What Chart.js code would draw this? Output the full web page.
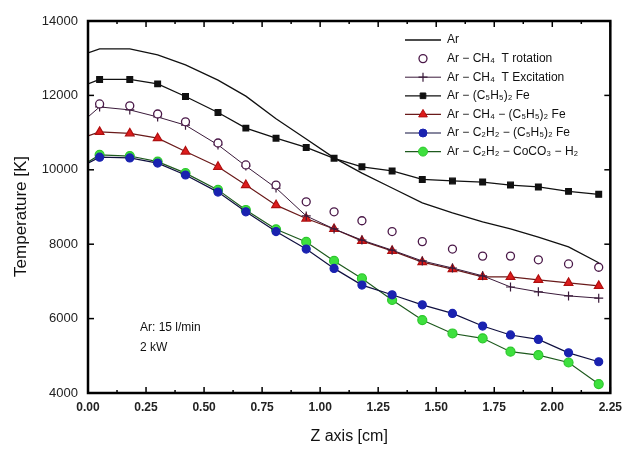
<!DOCTYPE html>
<html>
<head>
<meta charset="utf-8">
<script src="https://cdn.jsdelivr.net/npm/chart.js@4.4.1/dist/chart.umd.min.js"></script>
<style>
  html, body { margin: 0; padding: 0; background: #fff; }
  #wrap { width: 629px; height: 460px; }
</style>
</head>
<body>
<div id="wrap"><canvas id="tempChart"></canvas></div>
<script>
// measured positions along the torch axis (cm)
const zPoints = [0.05, 0.18, 0.30, 0.42, 0.56, 0.68, 0.81, 0.94, 1.06, 1.18, 1.31, 1.44, 1.57, 1.70, 1.82, 1.94, 2.07, 2.20];
// the connected curves also start at the nozzle exit
const zLine = [0.00].concat(zPoints);

const tAr         = [13140, 13250, 13250, 13090, 12820, 12410, 11980, 11370, 10830, 10320, 9910, 9510, 9110, 8840, 8600, 8410, 8190, 7930, 7500];
const tRotation   = [11770, 11720, 11500, 11290, 10720, 10130, 9590, 9140, 8870, 8630, 8340, 8070, 7870, 7680, 7680, 7580, 7470, 7380];
const tExcitation = [11420, 11690, 11610, 11420, 11200, 10670, 10100, 9510, 8760, 8410, 8110, 7840, 7550, 7360, 7150, 6850, 6720, 6610, 6550];
const tFerrocene  = [12310, 12430, 12430, 12310, 11970, 11540, 11120, 10850, 10600, 10310, 10080, 9970, 9740, 9700, 9670, 9590, 9540, 9420, 9340];
const tCh4Fe      = [10910, 11020, 10980, 10850, 10490, 10080, 9590, 9050, 8690, 8410, 8090, 7820, 7520, 7330, 7120, 7120, 7040, 6960, 6880];
const tC2h2Fe     = [10180, 10340, 10320, 10180, 9860, 9400, 8870, 8340, 7870, 7350, 6900, 6640, 6370, 6140, 5800, 5560, 5440, 5080, 4840];
const tC2h2Co     = [10210, 10400, 10370, 10220, 9910, 9460, 8920, 8400, 8060, 7550, 7080, 6500, 5960, 5600, 5470, 5110, 5020, 4820, 4240];

const seriesNames = [
    "Ar",
    "Ar \u2212 CH\u2084  T rotation",
    "Ar \u2212 CH\u2084  T Excitation",
    "Ar \u2212 (C\u2085H\u2085)\u2082 Fe",
    "Ar \u2212 CH\u2084 \u2212 (C\u2085H\u2085)\u2082 Fe",
    "Ar \u2212 C\u2082H\u2082 \u2212 (C\u2085H\u2085)\u2082 Fe",
    "Ar \u2212 C\u2082H\u2082 \u2212 CoCO\u2083 \u2212 H\u2082"
];

const yTicks = [4000, 6000, 8000, 10000, 12000, 14000];
const xTicks = [0.00, 0.25, 0.50, 0.75, 1.00, 1.25, 1.50, 1.75, 2.00, 2.25];

const fontFamily = "'Liberation Sans', Arial, sans-serif";

function pairs(xs, ys) {
    return ys.map((v, i) => ({ x: xs[i], y: v }));
}

// first point of each curve sits on the axis without a marker
function radii(n, r) {
    return Array.from({ length: n }, (_, i) => (i === 0 ? 0 : r));
}

const datasets = [
    {
        label: seriesNames[0],
        data: pairs(zLine, tAr),
        borderColor: "#111",
        borderWidth: 1.3,
        pointRadius: 0,
        showLine: true
    },
    {
        label: seriesNames[1],
        data: pairs(zPoints, tRotation),
        borderColor: "#4a1848",
        backgroundColor: "#fff",
        pointStyle: "circle",
        pointRadius: 4,
        pointBorderWidth: 1.3,
        showLine: false
    },
    {
        label: seriesNames[2],
        data: pairs(zLine, tExcitation),
        borderColor: "#3a1a3a",
        backgroundColor: "#3a1a3a",
        borderWidth: 1,
        pointStyle: "cross",
        pointRadius: radii(zLine.length, 4.5),
        pointBorderWidth: 1.2,
        showLine: true
    },
    {
        label: seriesNames[3],
        data: pairs(zLine, tFerrocene),
        borderColor: "#111",
        backgroundColor: "#111",
        borderWidth: 1.3,
        pointStyle: "rect",
        pointRadius: radii(zLine.length, 4),
        showLine: true
    },
    {
        label: seriesNames[4],
        data: pairs(zLine, tCh4Fe),
        borderColor: "#6a1a1a",
        backgroundColor: "#dd1c1c",
        pointBorderColor: "#b01010",
        borderWidth: 1.2,
        pointStyle: "triangle",
        pointRadius: radii(zLine.length, 5),
        showLine: true
    },
    {
        label: seriesNames[5],
        data: pairs(zLine, tC2h2Fe),
        borderColor: "#101040",
        backgroundColor: "#1a22b0",
        pointBorderColor: "#1a22b0",
        borderWidth: 1.2,
        pointStyle: "circle",
        pointRadius: radii(zLine.length, 4),
        showLine: true
    },
    {
        label: seriesNames[6],
        data: pairs(zLine, tC2h2Co),
        borderColor: "#1e5a1e",
        backgroundColor: "#3ee03e",
        pointBorderColor: "#2cc82c",
        borderWidth: 1.2,
        pointStyle: "circle",
        pointRadius: radii(zLine.length, 4.5),
        showLine: true
    }
];

const boxLegend = {
    id: "boxLegend",
    afterDraw(chart) {
        const ctx = chart.ctx;
        ctx.save();
        ctx.font = "12px " + fontFamily;
        ctx.textBaseline = "middle";
        ctx.textAlign = "left";
        chart.data.datasets.forEach((ds, i) => {
            const y = 40 + i * 18.6;
            if (ds.showLine) {
                ctx.strokeStyle = ds.borderColor;
                ctx.lineWidth = ds.borderWidth;
                ctx.beginPath();
                ctx.moveTo(405, y);
                ctx.lineTo(441, y);
                ctx.stroke();
            }
            if (ds.pointStyle) {
                ctx.fillStyle = ds.backgroundColor;
                ctx.strokeStyle = ds.pointBorderColor || ds.borderColor;
                ctx.lineWidth = ds.pointBorderWidth || 1;
                Chart.helpers.drawPoint(ctx, {
                    pointStyle: ds.pointStyle,
                    radius: Array.isArray(ds.pointRadius) ? ds.pointRadius[1] : ds.pointRadius,
                    borderWidth: ctx.lineWidth,
                    rotation: 0
                }, 423, y);
            }
            ctx.fillStyle = "#111";
            ctx.fillText(ds.label, 447, y);
        });
        ctx.fillText("Ar: 15 l/min", 140, 328);
        ctx.fillText("2 kW", 140, 348);
        ctx.restore();
    }
};

const frameTicks = {
    id: "frameTicks",
    afterDraw(chart) {
        const { ctx, chartArea: a, scales: { x, y } } = chart;
        ctx.save();
        ctx.strokeStyle = "#000";
        ctx.lineWidth = 1.5;
        const seg = (x1, y1, x2, y2) => {
            ctx.beginPath();
            ctx.moveTo(x1, y1);
            ctx.lineTo(x2, y2);
            ctx.stroke();
        };
        xTicks.forEach((t, i) => {
            const px = x.getPixelForValue(t);
            seg(px, a.bottom, px, a.bottom - 6);
            seg(px, a.top, px, a.top + 6);
            if (i < xTicks.length - 1) {
                const pm = x.getPixelForValue(t + 0.125);
                seg(pm, a.bottom, pm, a.bottom - 3);
                seg(pm, a.top, pm, a.top + 3);
            }
        });
        yTicks.forEach(t => {
            const py = y.getPixelForValue(t);
            seg(a.left, py, a.left + 6, py);
            seg(a.right, py, a.right - 6, py);
        });
        ctx.lineWidth = 2.5;
        ctx.strokeRect(a.left, a.top, a.right - a.left, a.bottom - a.top);
        ctx.restore();
    }
};

new Chart(document.getElementById("tempChart"), {
    type: "line",
    data: { datasets },
    options: {
        responsive: true,
        maintainAspectRatio: false,
        animation: false,
        layout: { padding: { top: 21, right: 18, left: 0, bottom: 0 } },
        plugins: {
            legend: { display: false },
            tooltip: { enabled: false }
        },
        elements: { line: { tension: 0 } },
        scales: {
            x: {
                type: "linear",
                min: 0,
                max: 2.25,
                afterFit: s => { s.height = 67; },
                afterBuildTicks: s => { s.ticks = xTicks.map(v => ({ value: v })); },
                ticks: {
                    padding: 7,
                    color: "#222",
                    font: { family: fontFamily, size: 12, weight: "bold" },
                    callback: v => Number(v).toFixed(2),
                    maxRotation: 0,
                    autoSkip: false
                },
                grid: { display: false, drawTicks: false },
                border: { display: false },
                title: {
                    display: true,
                    text: "Z axis [cm]",
                    color: "#111",
                    font: { family: fontFamily, size: 16, lineHeight: 1 },
                    padding: { top: 0, bottom: 15 }
                }
            },
            y: {
                min: 4000,
                max: 14000,
                afterFit: s => { s.width = 88; },
                afterBuildTicks: s => { s.ticks = yTicks.map(v => ({ value: v })); },
                ticks: {
                    padding: 10,
                    color: "#222",
                    font: { family: fontFamily, size: 13 },
                    callback: v => String(v)
                },
                grid: { display: false, drawTicks: false },
                border: { display: false },
                title: {
                    display: true,
                    // trailing spaces nudge the rotated title a little lower, as in the original
                    text: "Temperature [K]\u00a0\u00a0\u00a0\u00a0",
                    color: "#111",
                    font: { family: fontFamily, size: 17, lineHeight: 1 },
                    padding: { top: 13, bottom: 0 }
                }
            }
        }
    },
    plugins: [boxLegend, frameTicks]
});
</script>
</body>
</html>
